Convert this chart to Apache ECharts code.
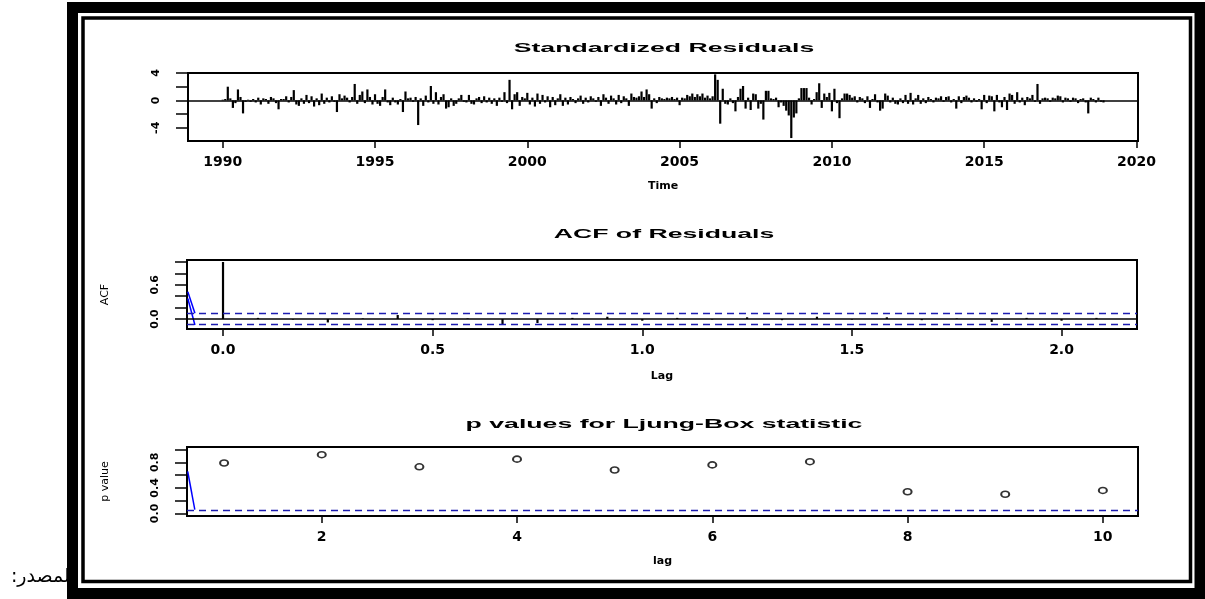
<!DOCTYPE html>
<html>
<head>
<meta charset="utf-8">
<script src="https://cdn.jsdelivr.net/npm/echarts@6/dist/echarts.min.js"></script>
<style>
  html, body { margin: 0; background: #fff; }
  #chart { width: 1205px; height: 599px; }
</style>
</head>
<body>
<div id="chart"></div>
<script>
// standardized residuals, monthly, starting Jan 1990
const startYear = 1990
const freq = 12
const resid = [
  0.1, 0.2, 2.0, 0.3, -1.1, -0.4, 1.6, 0.5, -1.9, -0.2, 0.1, -0.2,
  0.2, -0.3, 0.4, -0.6, 0.3, 0.2, -0.5, 0.5, 0.3, -0.4, -1.3, 0.2,
  0.2, 0.6, -0.3, 0.5, 1.5, -0.6, -0.8, 0.3, -0.5, 0.8, -0.4, 0.6,
  -0.9, 0.3, -0.7, 1.0, -0.5, 0.4, -0.3, 0.6, -0.2, -1.7, 0.9, 0.3,
  0.7, 0.4, -0.3, 0.5, 2.4, -0.5, 0.8, 1.3, -0.4, 1.6, 0.5, -0.6,
  0.9, -0.5, -0.8, 0.5, 1.6, -0.3, -0.7, 0.4, -0.3, -0.6, 0.2, -1.7,
  1.3, 0.3, 0.4, -0.2, 0.5, -3.6, 0.3, -0.8, 0.7, -0.3, 2.1, -0.5,
  1.2, -0.6, 0.5, 0.9, -1.2, -1.0, 0.3, -0.8, -0.5, 0.3, 0.8, -0.2,
  -0.3, 0.8, -0.5, -0.6, 0.3, 0.5, -0.4, 0.6, -0.3, 0.4, -0.5, 0.3,
  -0.8, 0.4, -0.2, 1.2, -0.4, 3.0, -1.3, 0.9, 1.2, -0.8, 0.5, 0.3,
  1.1, -0.6, 0.4, -0.9, 1.0, -0.5, 0.8, -0.3, 0.6, -1.0, 0.5, -0.7,
  0.3, 0.9, -0.8, 0.4, -0.6, 0.5, 0.2, -0.4, 0.3, 0.7, -0.5, 0.4,
  -0.3, 0.6, 0.3, -0.2, 0.5, -0.8, 0.9, 0.4, -0.5, 0.7, 0.3, -0.6,
  0.8, -0.4, 0.6, 0.3, -0.8, 1.0, 0.5, 0.4, 0.6, 1.3, 0.5, 1.6,
  0.9, -1.2, 0.3, -0.4, 0.5, 0.3, 0.2, 0.4, 0.3, 0.5, 0.2, 0.4,
  -0.7, 0.4, 0.3, 0.8, 0.6, 1.0, 0.5, 0.9, 0.6, 1.0, 0.4, 0.7,
  0.3, 0.6, 3.8, 3.0, -3.4, 1.7, -0.5, -0.6, 0.3, -0.4, -1.6, 0.5,
  1.7, 2.1, -1.2, 0.4, -1.4, 1.0, 0.9, -1.2, -0.5, -2.8, 1.4, 1.4,
  0.3, 0.2, 0.4, -1.0, -0.3, -0.8, -1.5, -2.2, -5.5, -2.5, -1.9, 0.3,
  1.8, 1.8, 1.8, 0.4, -0.6, 0.2, 1.2, 2.5, -1.1, 1.0, 0.5, 1.1,
  -1.6, 1.7, -0.4, -2.6, 0.3, 1.0, 1.0, 0.8, 0.4, 0.6, -0.3, 0.5,
  0.3, -0.4, 0.6, -1.1, 0.2, 0.9, -0.3, -1.5, -1.2, 1.0, 0.7, -0.3,
  0.4, -0.5, -0.6, 0.3, -0.4, 0.8, -0.5, 1.1, -0.6, 0.3, 0.8, -0.5,
  0.3, -0.4, 0.5, 0.2, -0.3, 0.4, 0.3, 0.6, -0.2, 0.5, 0.6, -0.3,
  0.2, -1.2, 0.6, -0.4, 0.5, 0.7, 0.4, -0.3, 0.3, -0.2, 0.2, -1.3,
  0.8, -0.4, 0.7, 0.6, -1.6, 0.8, -0.3, -1.0, 0.5, -1.4, 1.0, 0.8,
  -0.5, 1.2, -0.3, 0.4, -0.7, 0.5, 0.3, 0.8, -0.2, 2.4, -0.5, 0.3,
  0.4, 0.3, -0.2, 0.4, 0.3, 0.7, 0.6, -0.3, 0.4, 0.3, -0.2, 0.4,
  0.3, -0.4, 0.2, 0.3, -0.3, -1.9, 0.4, 0.2, -0.3, 0.4, -0.2, -0.3
]
const timeTicks = [1990, 1995, 2000, 2005, 2010, 2015, 2020]
const residTicks = [-4, -2, 0, 2, 4]
const residLabels = [-4, 0, 4]

// ACF of residuals, lags 0..25 (in years)
const acf = [1.0, 0.02, -0.01, -0.06, 0.01, 0.07, -0.02, 0.01, -0.09, -0.07, 0.02, 0.04, -0.03,
  0.02, -0.01, 0.03, -0.02, 0.04, -0.01, 0.03, -0.02, 0.01, -0.05, 0.02, -0.03, 0.02]
const acfLagTicks = [0, 0.5, 1, 1.5, 2]
const acfTicks = [0, 0.2, 0.4, 0.6, 0.8, 1]
const acfLabels = [0, 0.6]
const acfBound = 0.105

// Ljung-Box p values
const lbLags = [1, 2, 3, 4, 5, 6, 7, 8, 9, 10]
const pValues = [0.79, 0.92, 0.73, 0.85, 0.68, 0.76, 0.81, 0.34, 0.30, 0.36]
const lbLagTicks = [2, 4, 6, 8, 10]
const pTicks = [0, 0.2, 0.4, 0.6, 0.8, 1]
const pLabels = [0, 0.4, 0.8]
const pBound = 0.05

// stray blue strokes at the left edge of the two lower panels
const acfStrokeA = [[-0.084, 0.48], [-0.067, 0.10]]
const acfStrokeB = [[-0.084, 0.36], [-0.067, -0.105]]
const lbStroke = [[0.627, 0.66], [0.70, 0.06]]

const residData = resid.map((v, i) => [startYear + i / freq, v])
const acfData = acf.map((v, k) => [k / freq, v])
const pData = lbLags.map((k, i) => [k, pValues[i]])

const chart = echarts.init(document.getElementById('chart'))

const tickLabel = { fontFamily: 'DejaVu Sans', fontWeight: 'bold', fontSize: 14, color: '#000' }
const yTickLabel = { fontFamily: 'DejaVu Sans', fontWeight: 'bold', fontSize: 11, color: '#000' }

function spike(params, api) {
  const x = api.value(0)
  const base = api.coord([x, 0])
  const tip = api.coord([x, api.value(1)])
  return {
    type: 'line',
    shape: { x1: base[0], y1: base[1], x2: tip[0], y2: tip[1] },
    style: { stroke: '#000', lineWidth: 2.2 }
  }
}

function hLines(lines) {
  return {
    silent: true,
    symbol: 'none',
    label: { show: false },
    data: lines.map(l => ({ yAxis: l.y, lineStyle: l.style }))
  }
}

function xAxisFor(gridIndex, min, max, ticks, name, nameGap, fmt) {
  return {
    gridIndex, type: 'value', min, max,
    axisLine: { show: false, onZero: false },
    splitLine: { show: false },
    axisTick: { show: true, length: 7, customValues: ticks, lineStyle: { color: '#000', width: 1.5 } },
    axisLabel: { customValues: ticks, margin: 14, formatter: fmt, ...tickLabel },
    name, nameLocation: 'middle', nameGap,
    nameTextStyle: { fontFamily: 'DejaVu Sans', fontWeight: 'bold', fontSize: 11, color: '#000' }
  }
}

function yAxisFor(gridIndex, min, max, ticks, labels, name, fmt) {
  return {
    gridIndex, type: 'value', min, max,
    axisLine: { show: false, onZero: false },
    splitLine: { show: false },
    axisTick: { show: true, length: 12, customValues: ticks, lineStyle: { color: '#000', width: 1.5 } },
    axisLabel: { customValues: labels, rotate: 90, margin: 26, formatter: fmt, ...yTickLabel },
    name, nameLocation: 'middle', nameRotate: 90, nameGap: 76,
    nameTextStyle: { fontFamily: 'DejaVu Sans', fontSize: 11, color: '#000' }
  }
}

function title(text, y) {
  return {
    type: 'text', x: 664, y, scaleX: 2.05, z: 10,
    style: {
      text, font: 'bold 13px "Liberation Sans"', fill: '#000',
      textAlign: 'center', textVerticalAlign: 'middle', align: 'center', verticalAlign: 'middle'
    }
  }
}

const gridBox = { show: true, borderColor: '#000', borderWidth: 2, backgroundColor: 'transparent' }
const dashBlue = { type: [7, 5], color: '#1c1cb0', width: 1.3 }

chart.setOption({
  backgroundColor: '#fff',
  animation: false,
  grid: [
    { left: 188, right: 67, top: 73, height: 68, ...gridBox },
    { left: 187, right: 68, top: 260, height: 69, ...gridBox },
    { left: 187, right: 67, top: 447, height: 69, ...gridBox }
  ],
  xAxis: [
    xAxisFor(0, 1988.86, 2020.05, timeTicks, 'Time', 40, v => String(v)),
    xAxisFor(1, -0.0859, 2.18, acfLagTicks, 'Lag', 42, v => v.toFixed(1)),
    xAxisFor(2, 0.62, 10.36, lbLagTicks, 'lag', 40, v => String(v))
  ],
  yAxis: [
    yAxisFor(0, -5.93, 4.0, residTicks, residLabels, '', v => String(v)),
    yAxisFor(1, -0.175, 1.035, acfTicks, acfLabels, 'ACF', v => v.toFixed(1)),
    yAxisFor(2, -0.04, 1.04, pTicks, pLabels, 'p value', v => v.toFixed(1))
  ],
  series: [
    {
      type: 'custom', xAxisIndex: 0, yAxisIndex: 0, data: residData,
      encode: { x: 0, y: 1 }, renderItem: spike, silent: true,
      markLine: hLines([{ y: 0, style: { type: 'solid', color: '#000', width: 1.5 } }])
    },
    {
      type: 'custom', xAxisIndex: 1, yAxisIndex: 1, data: acfData,
      encode: { x: 0, y: 1 }, renderItem: spike, silent: true,
      markLine: hLines([
        { y: 0, style: { type: 'solid', color: '#000', width: 1.5 } },
        { y: acfBound, style: dashBlue },
        { y: -acfBound, style: dashBlue }
      ])
    },
    { type: 'line', xAxisIndex: 1, yAxisIndex: 1, data: acfStrokeA, symbol: 'none', silent: true, lineStyle: { color: '#0000ff', width: 1.5 } },
    { type: 'line', xAxisIndex: 1, yAxisIndex: 1, data: acfStrokeB, symbol: 'none', silent: true, lineStyle: { color: '#0000ff', width: 1.5 } },
    {
      type: 'scatter', xAxisIndex: 2, yAxisIndex: 2, data: pData,
      symbol: 'circle', symbolSize: [8, 6], silent: true,
      itemStyle: { color: '#fff', borderColor: '#000', borderWidth: 1.8 },
      markLine: hLines([{ y: pBound, style: dashBlue }])
    },
    { type: 'line', xAxisIndex: 2, yAxisIndex: 2, data: lbStroke, symbol: 'none', silent: true, lineStyle: { color: '#0000ff', width: 1.5 } }
  ],
  graphic: [
    {
      type: 'text', x: 75, y: 577, z: 0,
      style: {
        text: 'المصدر:\u200F', font: '19px "DejaVu Sans"', fill: '#000',
        textAlign: 'right', textVerticalAlign: 'middle', align: 'right', verticalAlign: 'middle'
      }
    },
    title('Standardized Residuals', 48),
    title('ACF of Residuals', 234),
    title('p values for Ljung-Box statistic', 424),
    {
      type: 'rect', z: 100, silent: true,
      shape: { x: 72.5, y: 7.5, width: 1127.5, height: 586 },
      style: { fill: 'none', stroke: '#000', lineWidth: 11 }
    },
    {
      type: 'rect', z: 100, silent: true,
      shape: { x: 83, y: 18, width: 1107.5, height: 563.5 },
      style: { fill: 'none', stroke: '#000', lineWidth: 3.5 }
    }
  ]
})
</script>
</body>
</html>
